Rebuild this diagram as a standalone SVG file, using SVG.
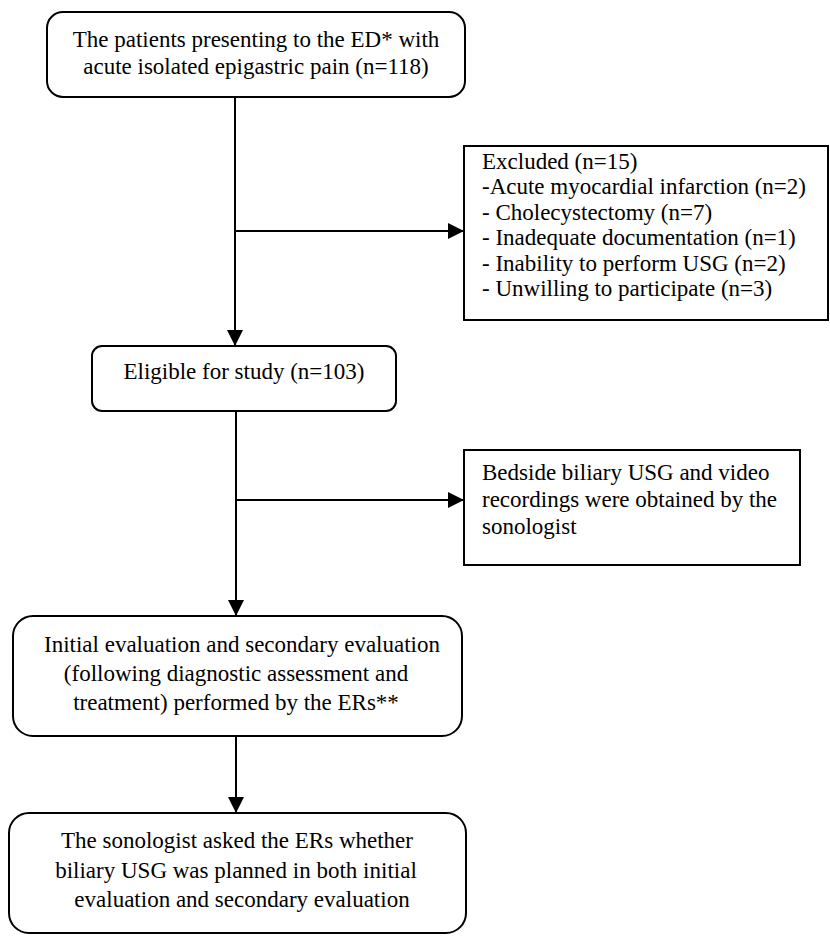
<svg xmlns="http://www.w3.org/2000/svg" width="830" height="936" viewBox="0 0 830 936">
<style>
.box{fill:#fff;stroke:#000;stroke-width:2}
.t{font-family:"Liberation Serif","Times New Roman",serif;font-size:23px;fill:#000}
.c{text-anchor:middle}
.ln{stroke:#000;stroke-width:2;fill:none}
</style>
<defs>
<marker id="ah" viewBox="0 0 10 10" refX="10" refY="5" markerWidth="8" markerHeight="8" markerUnits="strokeWidth" orient="auto">
<path d="M0,0 L10,5 L0,10 Z" fill="#000"/>
</marker>
</defs>
<rect width="830" height="936" fill="#fff"/>
<g id="connectors">
<line class="ln" x1="235" y1="97" x2="235" y2="346" marker-end="url(#ah)"/>
<line class="ln" x1="235" y1="231" x2="464" y2="231" marker-end="url(#ah)"/>
<line class="ln" x1="236" y1="411" x2="236" y2="616" marker-end="url(#ah)"/>
<line class="ln" x1="236" y1="500" x2="464" y2="500" marker-end="url(#ah)"/>
<line class="ln" x1="236" y1="736" x2="236" y2="813" marker-end="url(#ah)"/>
</g>
<g id="n1">
<rect class="box" x="47" y="12" width="418" height="85" rx="16"/>
<text class="t c" x="256" y="47">The patients presenting to the ED* with</text>
<text class="t c" x="256" y="74">acute isolated epigastric pain (n=118)</text>
</g>
<g id="n2">
<rect class="box" x="464" y="146" width="364" height="174"/>
<text class="t" x="482" y="169">Excluded (n=15)</text>
<text class="t" x="482" y="194">-Acute myocardial infarction (n=2)</text>
<text class="t" x="482" y="219.5">- Cholecystectomy (n=7)</text>
<text class="t" x="482" y="245">- Inadequate documentation (n=1)</text>
<text class="t" x="482" y="270.5">- Inability to perform USG (n=2)</text>
<text class="t" x="482" y="296">- Unwilling to participate (n=3)</text>
</g>
<g id="n3">
<rect class="box" x="92" y="346" width="304" height="65" rx="10"/>
<text class="t c" x="244" y="379">Eligible for study (n=103)</text>
</g>
<g id="n4">
<rect class="box" x="464" y="450" width="336" height="115"/>
<text class="t" x="482" y="480">Bedside biliary USG and video</text>
<text class="t" x="482" y="507">recordings were obtained by the</text>
<text class="t" x="482" y="534">sonologist</text>
</g>
<g id="n5">
<rect class="box" x="13" y="616" width="449" height="120" rx="20"/>
<text class="t c" x="242" y="652">Initial evaluation and secondary evaluation</text>
<text class="t c" x="236" y="681">(following diagnostic assessment and</text>
<text class="t c" x="236" y="710">treatment) performed by the ERs**</text>
</g>
<g id="n6">
<rect class="box" x="9" y="813" width="457" height="120" rx="20"/>
<text class="t c" x="237" y="848">The sonologist asked the ERs whether</text>
<text class="t c" x="236" y="878">biliary USG was planned in both initial</text>
<text class="t c" x="242" y="907">evaluation and secondary evaluation</text>
</g>
</svg>
